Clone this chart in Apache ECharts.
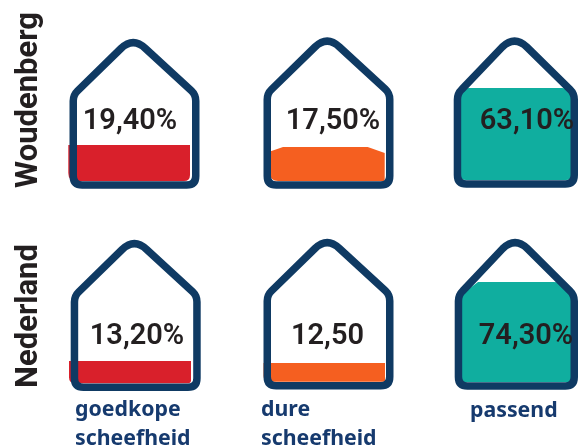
<!DOCTYPE html>
<html>
<head>
<meta charset="utf-8">
<style>
  html, body { margin: 0; padding: 0; background: #fff; }
  #chart { width: 578px; height: 447px; }
</style>
<script src="https://cdn.jsdelivr.net/npm/echarts@6/dist/echarts.min.js"></script>
</head>
<body>
<div id="chart"></div>
<script>
// data, row by row
const regions = ['Woudenberg', 'Nederland']
const categories = ['goedkope\nscheefheid', 'dure\nscheefheid', 'passend']
const valueLabels = ['19,40%', '17,50%', '63,10%', '13,20%', '12,50', '74,30%']
// how far the colour reaches up the house (0 = floor, 100 = apex)
const fillLevels = [25.4, 23.7, 64.6, 15.6, 13.1, 69.9]

// page layout, one entry per house
const houses = [
  { left: 69.5, top: 39, base: 181, fillL: -1.2, fillR: 190, textX: 130, textY: 122 },
  { left: 263.5, top: 37.5, base: 181, fillL: 6.5, fillR: 384.7, textX: 333, textY: 122 },
  { left: 453.7, top: 37.5, base: 180, fillL: 6.3, fillR: 572, textX: 527, textY: 122 },
  { left: 70.7, top: 240, base: 383.3, fillL: -1.7, fillR: 191, textX: 137, textY: 337 },
  { left: 263.5, top: 239, base: 381.7, fillL: 0, fillR: 385, textX: 327.5, textY: 337 },
  { left: 454.7, top: 239, base: 382, fillL: 3.3, fillR: 575, textX: 526, textY: 337 },
]
const houseWidth = 130
const colors = ['#d9202b', '#f55f20', '#10ae9f']
const navy = '#0f3a63'

// corners of each fill: [dx, dy, rounded] for tl, tr, br, bl
const fillCorners = [
  [[0, 0, 0], [0, 0, 0], [6, 6, 1], [8, 8, 1]],
  [[13, 4.5, 0], [17, 6, 0], [1, 1, 0], [8, 8, 1]],
  [[9, 9, 1], [10, 10, 1], [6, 6, 1], [6, 6, 1]],
  [[0, 0, 0], [0, 0, 0], [3, 3, 1], [6, 6, 1]],
  [[0, 0, 0], [0, 0, 0], [1, 1, 0], [6, 6, 1]],
  [[20, 15, 0], [22, 22, 1], [3, 3, 1], [6, 6, 1]],
]

function fillPath(x0, x1, y0, y1, c) {
  const [tl, tr, br, bl] = c
  const corner = (p, px, py, qx, qy) => (p[2] ? `Q${px} ${py} ${qx} ${qy}` : `L${qx} ${qy}`)
  return `M${x0} ${y0 + tl[1]}` + corner(tl, x0, y0, x0 + tl[0], y0)
    + `L${x1 - tr[0]} ${y0}` + corner(tr, x1, y0, x1, y0 + tr[1])
    + `L${x1} ${y1 - br[1]}` + corner(br, x1, y1, x1 - br[0], y1)
    + `L${x0 + bl[0]} ${y1}` + corner(bl, x0, y1, x0, y1 - bl[1]) + 'Z'
}

function housePath(r, base) {
  const l = r.x + 3.75
  const rt = r.x + r.width - 3.75
  const ax = r.x + r.width / 2 - 1.3
  const ay = r.y - 2.2
  const eave = r.y + 56
  const b = base + 4
  const k = 17 // apex rounding
  const dx = 0.72 * k
  const dy = 0.69 * k
  const dl = 6
  return `M${ax - dx} ${ay + dy}Q${ax} ${ay} ${ax + dx} ${ay + dy}`
    + `L${rt - 0.72 * dl} ${eave - 0.69 * dl}Q${rt} ${eave} ${rt} ${eave + dl}`
    + `L${rt} ${b - 9}Q${rt} ${b} ${rt - 9} ${b}`
    + `L${l + 9} ${b}Q${l} ${b} ${l} ${b - 9}`
    + `L${l} ${eave + dl}Q${l} ${eave} ${l + 0.72 * dl} ${eave - 0.69 * dl}Z`
}

const grid = []
const xAxis = []
const yAxis = []
const series = []

fillLevels.forEach((level, i) => {
  const h = houses[i]
  grid.push({ left: h.left, top: h.top, width: houseWidth, height: h.base - h.top })
  xAxis.push({ gridIndex: i, type: 'category', data: [categories[i % 3]], show: false })
  yAxis.push({ gridIndex: i, type: 'value', min: 0, max: 100, show: false })
  series.push({
    type: 'custom',
    xAxisIndex: i,
    yAxisIndex: i,
    data: [[0, level]],
    silent: true,
    renderItem(params, api) {
      const top = api.coord([0, api.value(1)])[1]
      const floor = api.coord([0, 0])[1]
      const r = params.coordSys
      const x0 = r.x + h.fillL
      return {
        type: 'group',
        children: [
          {
            type: 'path',
            shape: { pathData: fillPath(x0, h.fillR, top, floor, fillCorners[i]) },
            style: { fill: colors[i % 3] },
          },
          {
            type: 'path',
            shape: { pathData: housePath(r, floor) },
            style: { fill: 'none', stroke: navy, lineWidth: 7.5, lineJoin: 'round' },
          },
          {
            type: 'text',
            x: h.textX,
            y: h.textY,
            style: {
              text: valueLabels[i],
              fill: '#231f20',
              font: '600 29px Roboto',
              align: 'center',
              verticalAlign: 'middle',
            },
          },
        ],
      }
    },
  })
})

const regionStyle = { fill: '#231f20', font: '700 31px Roboto', align: 'center', verticalAlign: 'middle' }
const categoryStyle = { fill: '#163a6e', font: '700 21.3px "Noto Sans"', lineHeight: 29, align: 'left', verticalAlign: 'top' }

const chart = echarts.init(document.getElementById('chart'), null, { renderer: 'canvas' })
chart.setOption({
  animation: false,
  backgroundColor: '#fff',
  grid,
  xAxis,
  yAxis,
  series,
  graphic: [
    { type: 'text', x: 29, y: 100, rotation: Math.PI / 2, style: { ...regionStyle, text: regions[0] } },
    { type: 'text', x: 29, y: 316, rotation: Math.PI / 2, style: { ...regionStyle, text: regions[1] } },
    { type: 'text', x: 75, y: 395, style: { ...categoryStyle, text: categories[0] } },
    { type: 'text', x: 261, y: 395, style: { ...categoryStyle, text: categories[1] } },
    { type: 'text', x: 470, y: 396, style: { ...categoryStyle, text: categories[2] } },
  ],
})
</script>
</body>
</html>
